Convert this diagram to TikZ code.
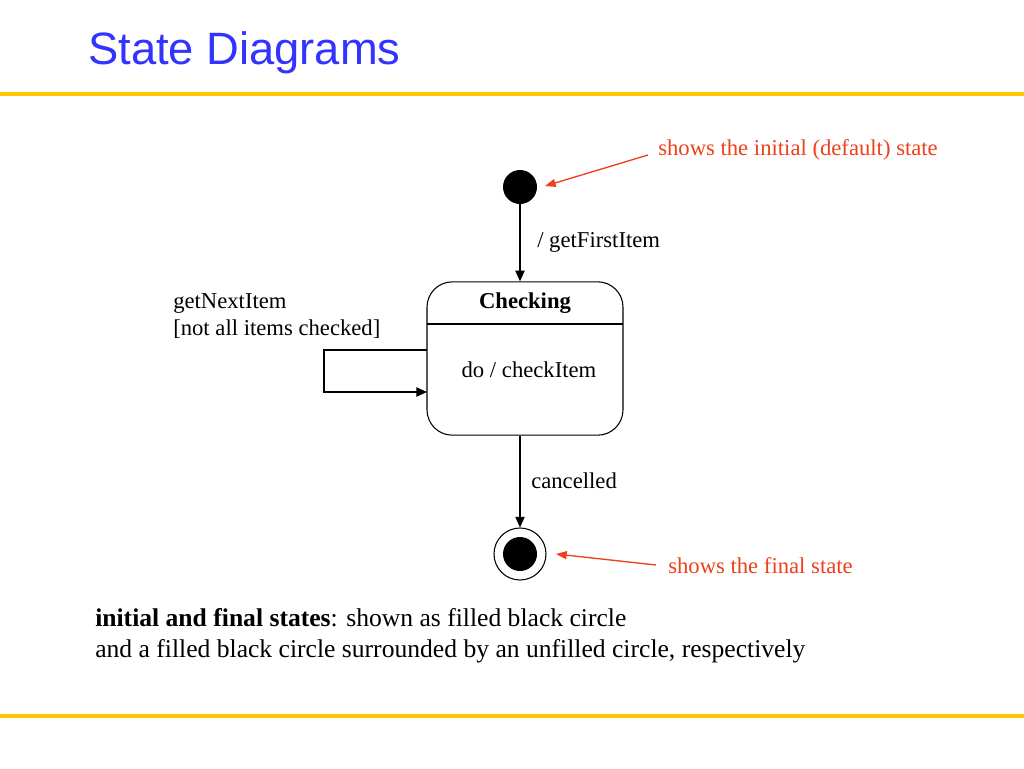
\documentclass[tikz,border=0pt]{standalone}
\usepackage{fontspec}
\setmainfont{Liberation Serif}
\newfontfamily\titlefont{Liberation Sans}
\usetikzlibrary{arrows.meta}
\definecolor{titleblue}{RGB}{51,51,255}
\definecolor{rulegold}{RGB}{253,200,0}
\definecolor{notered}{RGB}{238,64,26}
\begin{document}
\begin{tikzpicture}[x=0.75pt,y=-0.75pt,
  txt/.style={inner sep=0pt,font=\fontsize{17}{20}\selectfont},
  note/.style={txt,text=notered},
  trans/.style={draw=black,line width=0.8pt,-{Triangle[length=8pt,width=7pt]}},
  notearrow/.style={draw=notered,line width=1pt,-{Triangle[length=8pt,width=6pt]}},
  goldrule/.style={draw=rulegold,line width=2.6pt}]
\useasboundingbox (0,0) rectangle (1024,768);
\fill[white] (0,0) rectangle (1024,768);
% title and rules
\node[anchor=base west,inner sep=0pt,text=titleblue,font=\titlefont\fontsize{34}{40}\selectfont] (title) at (88,64) {State Diagrams};
\draw[goldrule] (0,94) -- (1024,94);
\draw[goldrule] (0,716) -- (1024,716);
% initial state
\node[circle,fill=black,minimum size=25.5pt,inner sep=0pt] (init) at (520,187) {};
% Checking state
\node[draw=black,line width=0.8pt,rounded corners=19pt,minimum width=147pt,minimum height=115pt,inner sep=0pt] (check) at (525,358.5) {};
\coordinate (divL) at (427,324);
\coordinate (divR) at (623,324);
\draw[line width=0.8pt] (divL) -- (divR);
\node[txt,anchor=base,font=\bfseries\fontsize{17}{20}\selectfont] (checkname) at (525,308) {Checking};
\node[txt,anchor=base] (doact) at (529,377) {do / checkItem};
% final state
\node[circle,draw=black,line width=0.8pt,fill=white,minimum size=39pt,inner sep=0pt] (final) at (520,554) {};
\node[circle,fill=black,minimum size=25.5pt,inner sep=0pt] (finalin) at (520,554) {};
% transitions
\draw[trans] (init.south) -- (init.south |- check.north);
\node[txt,anchor=base west] (lfirst) at (537,247) {/ getFirstItem};
\coordinate (loopA) at (427,350);
\coordinate (loopB) at (324,350);
\coordinate (loopC) at (324,392);
\coordinate (loopD) at (427,392);
\draw[trans] (loopA) -- (loopB) -- (loopC) -- (loopD);
\node[txt,anchor=base west] (lnext1) at (173,308) {getNextItem};
\node[txt,anchor=base west] (lnext2) at (173,335) {[not all items checked]};
\draw[trans] (final.north |- check.south) -- (final.north);
\node[txt,anchor=base west] (lcancel) at (531,488) {cancelled};
% notes
\node[note,anchor=base west] (ninit) at (658,155) {shows the initial (default) state};
\coordinate (ninitA) at (648,155);
\draw[notearrow] (ninitA) -- (545,186);
\node[note,anchor=base west] (nfinal) at (668,573) {shows the final state};
\coordinate (nfinalA) at (656,565);
\draw[notearrow] (nfinalA) -- (556,554);
% bottom text
\node[anchor=base west,inner sep=0pt,font=\fontsize{19.2}{23.25}\selectfont] (expl) at (95,626) {\textbf{initial and final states}: shown as filled black circle};
\node[anchor=base west,inner sep=0pt,font=\fontsize{19.2}{23.25}\selectfont] (expl2) at (95,657) {and a filled black circle surrounded by an unfilled circle, respectively};
\end{tikzpicture}
\end{document}
